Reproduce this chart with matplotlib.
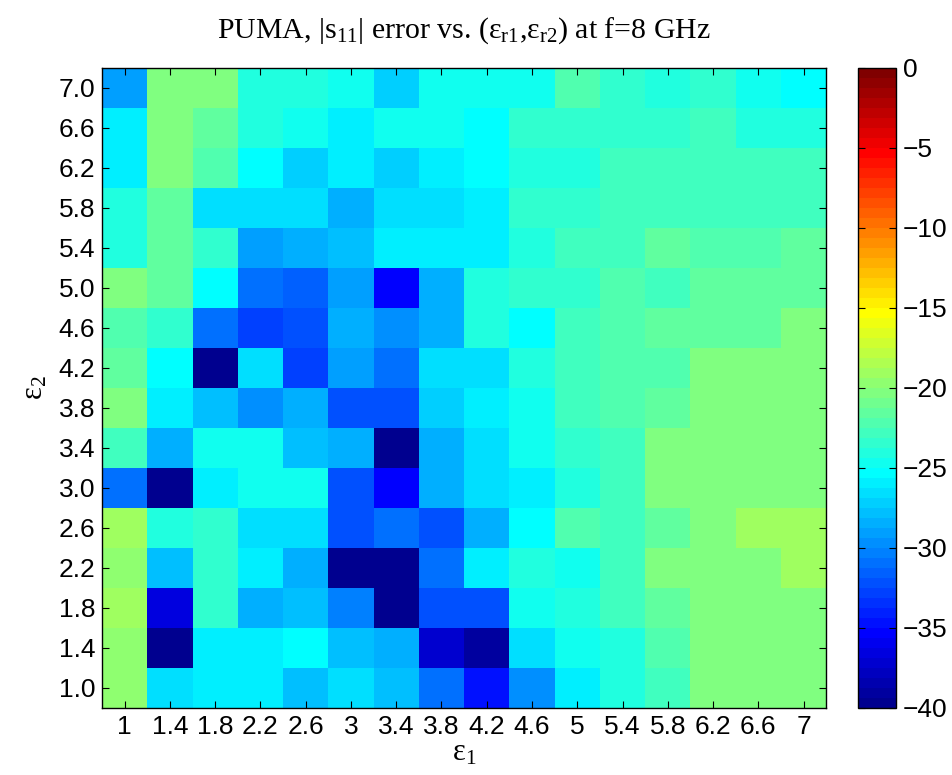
import numpy as np
import matplotlib
matplotlib.use('Agg')
from matplotlib import pyplot as plt
from matplotlib.colors import ListedColormap

# eps_r1 (x) and eps_r2 (y) grid values
eps1 = [1.0, 1.4, 1.8, 2.2, 2.6, 3.0, 3.4, 3.8, 4.2, 4.6, 5.0, 5.4, 5.8, 6.2, 6.6, 7.0]
eps2 = [7.0, 6.6, 6.2, 5.8, 5.4, 5.0, 4.6, 4.2, 3.8, 3.4, 3.0, 2.6, 2.2, 1.8, 1.4, 1.0]

x_labels = ['1', '1.4', '1.8', '2.2', '2.6', '3', '3.4', '3.8', '4.2', '4.6', '5', '5.4', '5.8', '6.2', '6.6', '7']
y_labels = ['1.0', '1.4', '1.8', '2.2', '2.6', '3.0', '3.4', '3.8', '4.2', '4.6', '5.0', '5.4', '5.8', '6.2', '6.6', '7.0']
cb_ticks = [0, -5, -10, -15, -20, -25, -30, -35, -40]

# |s11| error in dB, rows follow eps2 (top row = 7.0)
err_db = [
    [-29, -20.3, -20.6, -24.0, -24.0, -24.6, -27, -24.6, -24.6, -24.6, -22, -23.3, -24.0, -23.3, -24.6, -25.3],
    [-26, -20.3, -21.3, -24.0, -24.6, -26, -24.6, -24.6, -25.3, -23.3, -23.3, -23.3, -23.3, -22.6, -24.0, -24.0],
    [-26, -20.3, -22, -25.3, -27.3, -26, -27, -26.2, -25.3, -24.0, -24.0, -22.6, -22.6, -22.6, -22.6, -22.6],
    [-24.0, -21.3, -26.3, -26.3, -26.3, -28.4, -26.3, -26.8, -25.8, -23.3, -23.3, -22.6, -22.6, -22.6, -22.6, -22.6],
    [-24.0, -21.3, -23.3, -29, -28.4, -27.6, -26, -26, -25.8, -24.0, -22.6, -22.6, -21.3, -22, -22, -21.3],
    [-20.6, -21.3, -25.3, -31, -31.6, -29.3, -35.5, -28.4, -24.0, -23.3, -23.3, -22, -22.6, -21.3, -21.3, -21.3],
    [-22, -23.3, -31, -33, -32.5, -28.4, -29.6, -28.4, -24.0, -25.3, -22.6, -22, -21.3, -21.3, -21.3, -20.6],
    [-21.3, -25.3, -39.5, -26.8, -33, -29, -31.2, -26.8, -26.3, -24.0, -22.6, -22, -22, -20.6, -20.6, -20.6],
    [-20.6, -25.8, -27.6, -29.6, -28.4, -32.5, -32, -27.3, -25.8, -24.6, -22.6, -22, -21.3, -20.6, -20.6, -20.3],
    [-22.6, -28.4, -24.6, -24.6, -27.6, -28.4, -40, -28.4, -26.8, -24.6, -23.3, -22.6, -20.6, -20.3, -20.6, -20.3],
    [-31, -40, -25.8, -24.6, -24.6, -32.5, -35.5, -28.4, -26.8, -25.8, -24.0, -22.6, -20.6, -20.6, -20.3, -20.3],
    [-19.0, -24.0, -23.3, -26.8, -26.3, -32.2, -30.7, -32.5, -28.4, -25.3, -22, -22.6, -21.3, -20.3, -19.3, -19.3],
    [-19.7, -28.1, -23.3, -25.8, -28.4, -40, -40, -31.2, -25.8, -24.0, -24.6, -22.6, -20.6, -20.3, -20.3, -19.3],
    [-19.0, -36.8, -23.3, -28.4, -27.6, -30.5, -40, -32, -32.2, -24.6, -24.0, -22.6, -21.3, -20.6, -20.3, -20.3],
    [-19.7, -40, -25.8, -25.8, -25.3, -27.6, -28.4, -37.5, -39, -26.8, -24.6, -24.0, -22, -20.6, -20.3, -20.3],
    [-19.7, -26.3, -25.8, -25.8, -27.6, -26.3, -27.6, -30.7, -34.5, -30, -25.8, -24.0, -22.6, -20.6, -20.3, -20.3],
]

# MATLAB style jet(64)
m = 64
n = m // 4
u = np.concatenate([np.arange(1, n + 1) / n, np.ones(n - 1), np.arange(n, 0, -1) / n])
g = n // 2 + np.arange(1, len(u) + 1) - 1
r = g + n
b = g - n
jet = np.zeros((m, 3))
jet[r[r < m], 0] = u[r < m]
jet[g[g < m], 1] = u[g < m]
jet[b[b >= 0], 2] = u[b >= 0]
cmap = ListedColormap(jet)

plt.rcParams['font.family'] = ['Liberation Sans', 'DejaVu Sans']
plt.rcParams['mathtext.default'] = 'regular'

fig = plt.figure(figsize=(9.53, 7.75), dpi=100)
ax = fig.add_axes([0.107, 0.0865, 0.760, 0.826])
cax = fig.add_axes([0.900, 0.0865, 0.040, 0.826])

mesh = ax.pcolormesh(eps1, eps2, np.array(err_db), cmap=cmap, vmin=-40, vmax=0, shading='nearest')

ax.set_xticks(eps1)
ax.set_xticklabels(x_labels)
ax.set_yticks(eps2[::-1])
ax.set_yticklabels(y_labels)
ax.tick_params(direction='in', length=5, width=0.8, labelsize=19, top=True, right=True, pad=5)
for s in ax.spines.values():
    s.set_linewidth(1.0)

ax.set_title('PUMA, |s$_{11}$| error vs. (ε$_{r1}$,ε$_{r2}$) at f=8 GHz',
             family='Liberation Serif', fontsize=21.5, pad=22)
ax.set_xlabel('ε$_1$', family='Liberation Serif', fontsize=22, labelpad=0)
ax.set_ylabel('ε$_2$', family='Liberation Serif', fontsize=22, labelpad=6)

cb = fig.colorbar(mesh, cax=cax, ticks=cb_ticks)
cb.ax.tick_params(direction='in', length=5, width=0.8, labelsize=19, left=True, right=True, pad=5)
cb.outline.set_linewidth(1.0)

fig.savefig('out.png', dpi=100)
